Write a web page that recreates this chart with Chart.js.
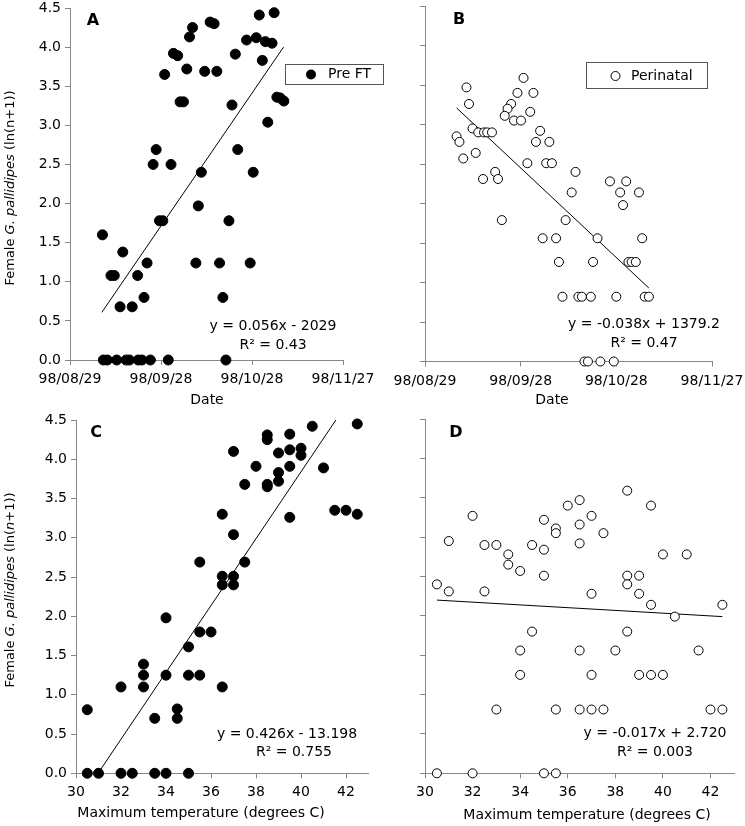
<!DOCTYPE html>
<html>
<head>
<meta charset="utf-8">
<script src="https://cdn.jsdelivr.net/npm/chart.js@4/dist/chart.umd.min.js"></script>
<style>
  body { margin: 0; background: #fff; }
  canvas { position: absolute; left: 0; top: 0; }
</style>
</head>
<body>
<canvas id="chartA" width="745" height="826"></canvas>
<canvas id="chartB" width="745" height="826"></canvas>
<canvas id="chartC" width="745" height="826"></canvas>
<canvas id="chartD" width="745" height="826"></canvas>
<script>
// tick labels
const dateTicks = ['98/08/29', '98/09/28', '98/10/28', '98/11/27'];
const dateTickDays = [0, 30, 60, 90];   // days after 98/08/29
const tempTicks = [30, 32, 34, 36, 38, 40, 42];
const yTicks = [0, 0.5, 1, 1.5, 2, 2.5, 3, 3.5, 4, 4.5];

// A: Pre FT against date
const preFtDays = [67.3, 62.4, 46.2, 47.5, 40.4, 39.4, 58.2, 61.4, 64.4, 66.6, 54.5, 34.1, 35.5, 63.4, 31.2,
  38.5, 44.4, 48.4, 36.3, 37.4, 53.4, 68.2, 69.3, 70.5, 65.2, 28.4, 55.3, 27.4, 33.3, 43.3,
  60.4, 42.3, 10.7, 29.5, 30.6, 52.4, 17.4, 25.4, 41.5, 49.3, 59.4, 13.5, 14.6, 22.3, 24.4,
  50.4, 16.5, 20.5, 11.0, 12.3, 15.4, 18.5, 19.6, 22.5, 23.7, 26.5, 32.4, 51.4];
const preFtDateVals = [4.44, 4.41, 4.32, 4.30, 4.25, 4.13, 4.09, 4.12, 4.07, 4.05, 3.91, 3.92, 3.89, 3.83, 3.65,
  3.72, 3.69, 3.69, 3.30, 3.30, 3.26, 3.36, 3.35, 3.31, 3.04, 2.69, 2.69, 2.50, 2.50, 2.40,
  2.40, 1.97, 1.60, 1.78, 1.78, 1.78, 1.38, 1.24, 1.24, 1.24, 1.24, 1.08, 1.08, 1.08, 0.80,
  0.80, 0.68, 0.68, 0, 0, 0, 0, 0, 0, 0, 0, 0, 0];
const trendA = [{x: 10.5, y: 0.61}, {x: 70.4, y: 4.0}];

// B: Perinatal against date
const perinatalDays = [30.9, 13.0, 29.0, 34.0, 13.8, 27.0, 25.9, 33.0, 25.0, 27.9, 30.1, 14.9, 16.7, 18.5, 19.5,
  21.0, 9.9, 10.8, 36.1, 34.8, 39.0, 15.9, 12.0, 32.1, 38.0, 39.8, 22.0, 18.2, 22.9, 47.2,
  58.0, 63.1, 46.0, 61.2, 67.1, 62.1, 24.1, 44.1, 36.9, 41.1, 54.1, 68.1, 42.0, 52.7, 63.8,
  64.8, 66.1, 43.1, 48.1, 49.2, 52.0, 60.0, 68.9, 70.2, 50.0, 51.1, 55.0, 59.2];
const perinatalDateVals = [3.59, 3.47, 3.40, 3.40, 3.26, 3.26, 3.20, 3.16, 3.11, 3.05, 3.05, 2.95, 2.90, 2.90, 2.90,
  2.90, 2.85, 2.78, 2.92, 2.78, 2.78, 2.64, 2.57, 2.51, 2.51, 2.51, 2.40, 2.31, 2.31, 2.40,
  2.28, 2.28, 2.14, 2.14, 2.14, 1.98, 1.79, 1.79, 1.56, 1.56, 1.56, 1.56, 1.26, 1.26, 1.26,
  1.26, 1.26, 0.82, 0.82, 0.82, 0.82, 0.82, 0.82, 0.82, 0, 0, 0, 0];
const trendB = [{x: 9.9, y: 3.21}, {x: 70.2, y: 0.93}];

// C: Pre FT against max temperature
const preFtTemp = [40.5, 42.5, 38.5, 38.5, 39.5, 37.0, 39.0, 39.5, 40.0, 40.0, 38.0, 39.5, 41.0, 39.0, 39.0,
  37.5, 38.5, 38.5, 36.5, 39.5, 41.5, 42.0, 42.5, 37.0, 35.5, 37.5, 36.5, 37.0, 36.5, 37.0,
  34.0, 35.5, 36.0, 35.0, 33.0, 33.0, 34.0, 35.0, 35.5, 32.0, 33.0, 36.5, 30.5, 34.5, 34.5,
  33.5, 30.5, 31.0, 32.0, 32.5, 33.5, 34.0, 35.0];
const preFtTempVals = [4.42, 4.45, 4.31, 4.25, 4.32, 4.10, 4.08, 4.12, 4.14, 4.05, 3.91, 3.91, 3.89, 3.83, 3.72,
  3.68, 3.68, 3.65, 3.30, 3.26, 3.35, 3.35, 3.30, 3.04, 2.69, 2.69, 2.51, 2.51, 2.40, 2.40,
  1.98, 1.80, 1.80, 1.61, 1.39, 1.25, 1.25, 1.25, 1.25, 1.10, 1.10, 1.10, 0.81, 0.82, 0.70,
  0.70, 0, 0, 0, 0, 0, 0, 0];
const trendC = [{x: 30.98, y: 0}, {x: 41.55, y: 4.5}];

// D: Perinatal against max temperature
const perinatalTemp = [38.5, 36.5, 36.0, 39.5, 32.0, 37.0, 35.0, 35.5, 35.5, 36.5, 37.5, 31.0, 36.5, 32.5, 33.0,
  34.5, 35.0, 33.5, 33.5, 34.0, 40.0, 41.0, 35.0, 38.5, 39.0, 38.5, 30.5, 31.0, 32.5, 37.0,
  39.0, 39.5, 42.5, 40.5, 34.5, 38.5, 34.0, 36.5, 38.0, 41.5, 34.0, 37.0, 39.0, 39.5, 40.0,
  33.0, 35.5, 36.5, 37.0, 37.5, 42.0, 42.5, 30.5, 32.0, 35.0, 35.5];
const perinatalTempVals = [3.59, 3.47, 3.40, 3.40, 3.27, 3.27, 3.22, 3.11, 3.05, 3.16, 3.05, 2.95, 2.92, 2.90, 2.90,
  2.90, 2.84, 2.78, 2.65, 2.57, 2.78, 2.78, 2.51, 2.51, 2.51, 2.40, 2.40, 2.31, 2.31, 2.28,
  2.28, 2.14, 2.14, 1.99, 1.80, 1.80, 1.56, 1.56, 1.56, 1.56, 1.25, 1.25, 1.25, 1.25, 1.25,
  0.81, 0.81, 0.81, 0.81, 0.81, 0.81, 0.81, 0, 0, 0, 0];
const trendD = [{x: 30.5, y: 2.20}, {x: 42.5, y: 1.99}];

const FONT = '"DejaVu Sans", Verdana, sans-serif';
const AXIS_GRAY = '#868686';

function pts(xs, ys) {
  return xs.map((x, i) => ({x: x, y: ys[i]}));
}

// draws the panel letter, equation, legend box and titles
const panelDecor = {
  id: 'panelDecor',
  afterDraw(chart, args, o) {
    const ctx = chart.ctx;
    ctx.save();
    ctx.fillStyle = '#000';
    ctx.textAlign = 'center';
    ctx.textBaseline = 'middle';

    ctx.font = 'bold 16px ' + FONT;
    ctx.fillText(o.letter[0], o.letter[1], o.letter[2]);

    ctx.font = '14px ' + FONT;
    o.eq.forEach(e => ctx.fillText(e[0], e[1], e[2]));
    ctx.fillText(o.xTitle[0], o.xTitle[1], o.xTitle[2]);

    if (o.legend) {
      const L = o.legend;
      ctx.fillStyle = '#fff';
      ctx.fillRect(L.box[0], L.box[1], L.box[2], L.box[3]);
      ctx.fillStyle = '#000';
      ctx.strokeStyle = '#555';
      ctx.lineWidth = 1;
      ctx.strokeRect(L.box[0] + 0.5, L.box[1] + 0.5, L.box[2], L.box[3]);
      ctx.beginPath();
      ctx.arc(L.mark[0], L.mark[1], L.filled ? 5 : 4.5, 0, Math.PI * 2);
      if (L.filled) {
        ctx.fill();
      } else {
        ctx.strokeStyle = '#000';
        ctx.stroke();
      }
      ctx.textAlign = 'left';
      ctx.fillText(L.text, L.textX, L.mark[1]);
    }

    if (o.yTitle) {
      const parts = o.yTitle.parts;
      ctx.translate(o.yTitle.x, o.yTitle.y);
      ctx.rotate(-Math.PI / 2);
      ctx.textAlign = 'left';
      let total = 0;
      parts.forEach(p => {
        ctx.font = (p[1] ? 'italic ' : '') + '13px ' + FONT;
        total += ctx.measureText(p[0]).width;
      });
      let x = -total / 2;
      parts.forEach(p => {
        ctx.font = (p[1] ? 'italic ' : '') + '13px ' + FONT;
        ctx.fillText(p[0], x, 0);
        x += ctx.measureText(p[0]).width;
      });
    }
    ctx.restore();
  }
};

// area: plot rectangle on the page [left, top, right, bottom]
function makePanel(id, cfg) {
  const [left, top, right, bottom] = cfg.area;
  const yWidth = cfg.yLabels ? left : 10;
  const xHeight = 40;
  const isDate = cfg.xKind === 'date';
  const xTickVals = isDate ? dateTickDays : tempTicks;

  return new Chart(document.getElementById(id), {
    type: 'scatter',
    data: {
      datasets: [{
        data: cfg.points,
        pointRadius: cfg.filled ? 5 : 4.5,
        pointHoverRadius: cfg.filled ? 5 : 4.5,
        pointBackgroundColor: cfg.filled ? '#000' : '#fff',
        pointBorderColor: '#000',
        pointBorderWidth: 1,
        clip: false
      }, {
        type: 'line',
        data: cfg.trend,
        borderColor: '#000',
        borderWidth: 1,
        pointRadius: 0,
        fill: false,
        clip: false
      }]
    },
    options: {
      responsive: false,
      animation: false,
      events: [],
      layout: {
        padding: {
          left: left - yWidth,
          top: top,
          right: 745 - right,
          bottom: 826 - bottom - xHeight
        }
      },
      plugins: {
        legend: {display: false},
        tooltip: {enabled: false},
        panelDecor: cfg.decor
      },
      scales: {
        x: {
          type: 'linear',
          min: cfg.xRange[0],
          max: cfg.xRange[1],
          afterBuildTicks: s => { s.ticks = xTickVals.map(v => ({value: v})); },
          afterFit: s => { s.height = xHeight; s.paddingLeft = 0; s.paddingRight = 0; },
          grid: {drawOnChartArea: false, drawTicks: true, tickLength: 5, color: AXIS_GRAY},
          border: {color: AXIS_GRAY},
          ticks: {
            color: '#000',
            padding: 6,
            maxRotation: 0,
            autoSkip: false,
            font: {family: FONT, size: 14},
            callback: v => isDate ? dateTicks[dateTickDays.indexOf(v)] : String(v)
          }
        },
        y: {
          type: 'linear',
          min: 0,
          max: 4.5,
          afterBuildTicks: s => { s.ticks = yTicks.map(v => ({value: v})); },
          afterFit: s => { s.width = yWidth; s.paddingTop = 0; s.paddingBottom = 0; },
          grid: {drawOnChartArea: false, drawTicks: true, tickLength: 5, color: AXIS_GRAY},
          border: {color: AXIS_GRAY},
          ticks: {
            display: cfg.yLabels,
            color: '#000',
            padding: 4,
            font: {family: FONT, size: 14},
            callback: v => v.toFixed(1)
          }
        }
      }
    },
    plugins: [panelDecor]
  });
}

makePanel('chartA', {
  area: [70, 8, 343, 360],
  xKind: 'date', xRange: [0, 90], yLabels: true, filled: true,
  points: pts(preFtDays, preFtDateVals), trend: trendA,
  decor: {
    letter: ['A', 93, 21],
    eq: [['y = 0.056x - 2029', 273, 326], ['R² = 0.43', 273, 345]],
    xTitle: ['Date', 207, 400],
    legend: {box: [285, 64, 98, 20], mark: [311, 74.5], filled: true, text: 'Pre FT', textX: 328},
    yTitle: {x: 11, y: 188, parts: [['Female ', false], ['G. pallidipes', true], [' (ln(n+1))', false]]}
  }
});

makePanel('chartB', {
  area: [425, 6, 712, 361.5],
  xKind: 'date', xRange: [0, 90], yLabels: false, filled: false,
  points: pts(perinatalDays, perinatalDateVals), trend: trendB,
  decor: {
    letter: ['B', 459, 20],
    eq: [['y = -0.038x + 1379.2', 644, 324], ['R² = 0.47', 644, 343]],
    xTitle: ['Date', 552, 400],
    legend: {box: [586, 62, 121, 26], mark: [615.5, 76], filled: false, text: 'Perinatal', textX: 631}
  }
});

makePanel('chartC', {
  area: [76, 420, 368.5, 773.3],
  xKind: 'temp', xRange: [30, 43], yLabels: true, filled: true,
  points: pts(preFtTemp, preFtTempVals), trend: trendC,
  decor: {
    letter: ['C', 96, 433],
    eq: [['y = 0.426x - 13.198', 287, 734], ['R² = 0.755', 294, 752]],
    xTitle: ['Maximum temperature (degrees C)', 201, 813],
    yTitle: {x: 11, y: 590, parts: [['Female ', false], ['G. pallidipes', true], [' (ln(', false], ['n', true], ['+1))', false]]}
  }
});

makePanel('chartD', {
  area: [425, 419, 734.3, 773.3],
  xKind: 'temp', xRange: [30, 43], yLabels: false, filled: false,
  points: pts(perinatalTemp, perinatalTempVals), trend: trendD,
  decor: {
    letter: ['D', 456, 433],
    eq: [['y = -0.017x + 2.720', 655, 733], ['R² = 0.003', 655, 752]],
    xTitle: ['Maximum temperature (degrees C)', 587, 815]
  }
});
</script>
</body>
</html>
